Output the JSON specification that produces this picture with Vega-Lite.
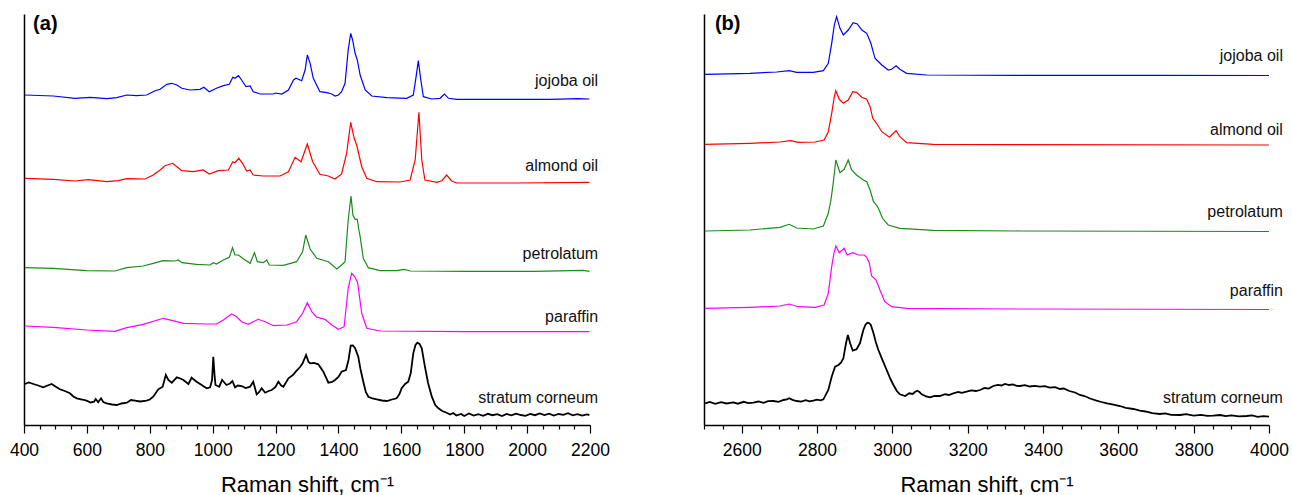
{
  "$schema": "https://vega.github.io/schema/vega-lite/v6.json",
  "padding": {"left": 9, "top": 13, "right": 0, "bottom": 0},
  "background": "white",
  "config": {
    "view": {"stroke": null},
    "font": "Liberation Sans",
    "axis": {"domainColor": "black", "tickColor": "black", "labelColor": "black", "titleColor": "black", "grid": false}
  },
  "spacing": 114,
  "bounds": "flush",
  "datasets": {
    "specA": [
      {"sample":"jojoba oil","shift":403,"intensity":330},{"sample":"jojoba oil","shift":493,"intensity":329},{"sample":"jojoba oil","shift":562,"intensity":326.7},{"sample":"jojoba oil","shift":610,"intensity":327.7},{"sample":"jojoba oil","shift":663,"intensity":326.3},{"sample":"jojoba oil","shift":695,"intensity":327.3},{"sample":"jojoba oil","shift":727,"intensity":330},{"sample":"jojoba oil","shift":758,"intensity":329.3},{"sample":"jojoba oil","shift":790,"intensity":330},{"sample":"jojoba oil","shift":817,"intensity":334.3},{"sample":"jojoba oil","shift":833,"intensity":335.7},{"sample":"jojoba oil","shift":854,"intensity":340.7},{"sample":"jojoba oil","shift":870,"intensity":341.7},{"sample":"jojoba oil","shift":886,"intensity":340},{"sample":"jojoba oil","shift":902,"intensity":336.7},{"sample":"jojoba oil","shift":928,"intensity":335},{"sample":"jojoba oil","shift":960,"intensity":335.7},{"sample":"jojoba oil","shift":972,"intensity":337.7},{"sample":"jojoba oil","shift":989,"intensity":333.3},{"sample":"jojoba oil","shift":1012,"intensity":336.7},{"sample":"jojoba oil","shift":1034,"intensity":339.3},{"sample":"jojoba oil","shift":1053,"intensity":340.7},{"sample":"jojoba oil","shift":1064,"intensity":347.7},{"sample":"jojoba oil","shift":1071,"intensity":346.7},{"sample":"jojoba oil","shift":1082,"intensity":349.3},{"sample":"jojoba oil","shift":1092,"intensity":345},{"sample":"jojoba oil","shift":1106,"intensity":338.3},{"sample":"jojoba oil","shift":1119,"intensity":339},{"sample":"jojoba oil","shift":1129,"intensity":333.3},{"sample":"jojoba oil","shift":1151,"intensity":331},{"sample":"jojoba oil","shift":1193,"intensity":331},{"sample":"jojoba oil","shift":1200,"intensity":332},{"sample":"jojoba oil","shift":1220,"intensity":331},{"sample":"jojoba oil","shift":1241,"intensity":335},{"sample":"jojoba oil","shift":1257,"intensity":345},{"sample":"jojoba oil","shift":1265,"intensity":346.7},{"sample":"jojoba oil","shift":1283,"intensity":344.3},{"sample":"jojoba oil","shift":1294,"intensity":355},{"sample":"jojoba oil","shift":1301,"intensity":370},{"sample":"jojoba oil","shift":1310,"intensity":361.7},{"sample":"jojoba oil","shift":1320,"intensity":346.7},{"sample":"jojoba oil","shift":1341,"intensity":333.3},{"sample":"jojoba oil","shift":1363,"intensity":332.3},{"sample":"jojoba oil","shift":1379,"intensity":331},{"sample":"jojoba oil","shift":1389,"intensity":329},{"sample":"jojoba oil","shift":1400,"intensity":330},{"sample":"jojoba oil","shift":1410,"intensity":333.3},{"sample":"jojoba oil","shift":1421,"intensity":341.7},{"sample":"jojoba oil","shift":1431,"intensity":375},{"sample":"jojoba oil","shift":1439,"intensity":391.7},{"sample":"jojoba oil","shift":1445,"intensity":385},{"sample":"jojoba oil","shift":1453,"intensity":371.7},{"sample":"jojoba oil","shift":1460,"intensity":365},{"sample":"jojoba oil","shift":1469,"intensity":350},{"sample":"jojoba oil","shift":1485,"intensity":335},{"sample":"jojoba oil","shift":1506,"intensity":329},{"sample":"jojoba oil","shift":1554,"intensity":327.3},{"sample":"jojoba oil","shift":1617,"intensity":326.7},{"sample":"jojoba oil","shift":1638,"intensity":330},{"sample":"jojoba oil","shift":1647,"intensity":348.3},{"sample":"jojoba oil","shift":1654,"intensity":364.3},{"sample":"jojoba oil","shift":1662,"intensity":345},{"sample":"jojoba oil","shift":1670,"intensity":328.3},{"sample":"jojoba oil","shift":1697,"intensity":326},{"sample":"jojoba oil","shift":1723,"intensity":326.7},{"sample":"jojoba oil","shift":1737,"intensity":331},{"sample":"jojoba oil","shift":1750,"intensity":326.7},{"sample":"jojoba oil","shift":1776,"intensity":325.7},{"sample":"jojoba oil","shift":1914,"intensity":325.7},{"sample":"jojoba oil","shift":2073,"intensity":325.7},{"sample":"jojoba oil","shift":2163,"intensity":326.3},{"sample":"jojoba oil","shift":2198,"intensity":326},
      {"sample":"almond oil","shift":403,"intensity":246.7},{"sample":"almond oil","shift":493,"intensity":245.7},{"sample":"almond oil","shift":562,"intensity":244},{"sample":"almond oil","shift":605,"intensity":245.3},{"sample":"almond oil","shift":663,"intensity":243.3},{"sample":"almond oil","shift":700,"intensity":244.3},{"sample":"almond oil","shift":727,"intensity":246.3},{"sample":"almond oil","shift":785,"intensity":246},{"sample":"almond oil","shift":811,"intensity":250},{"sample":"almond oil","shift":833,"intensity":255},{"sample":"almond oil","shift":848,"intensity":259.3},{"sample":"almond oil","shift":873,"intensity":261.7},{"sample":"almond oil","shift":886,"intensity":258.3},{"sample":"almond oil","shift":902,"intensity":254.3},{"sample":"almond oil","shift":938,"intensity":253.3},{"sample":"almond oil","shift":970,"intensity":255},{"sample":"almond oil","shift":989,"intensity":251},{"sample":"almond oil","shift":1018,"intensity":254.3},{"sample":"almond oil","shift":1050,"intensity":255},{"sample":"almond oil","shift":1064,"intensity":263.3},{"sample":"almond oil","shift":1071,"intensity":262.3},{"sample":"almond oil","shift":1083,"intensity":266.7},{"sample":"almond oil","shift":1095,"intensity":261.7},{"sample":"almond oil","shift":1108,"intensity":254},{"sample":"almond oil","shift":1119,"intensity":255},{"sample":"almond oil","shift":1129,"intensity":250},{"sample":"almond oil","shift":1161,"intensity":249},{"sample":"almond oil","shift":1214,"intensity":249},{"sample":"almond oil","shift":1241,"intensity":253.3},{"sample":"almond oil","shift":1262,"intensity":267.7},{"sample":"almond oil","shift":1281,"intensity":263.3},{"sample":"almond oil","shift":1301,"intensity":281},{"sample":"almond oil","shift":1318,"intensity":263.3},{"sample":"almond oil","shift":1341,"intensity":250.7},{"sample":"almond oil","shift":1368,"intensity":249},{"sample":"almond oil","shift":1389,"intensity":246},{"sample":"almond oil","shift":1410,"intensity":251},{"sample":"almond oil","shift":1426,"intensity":271.7},{"sample":"almond oil","shift":1439,"intensity":302.7},{"sample":"almond oil","shift":1450,"intensity":286.7},{"sample":"almond oil","shift":1458,"intensity":280},{"sample":"almond oil","shift":1474,"intensity":258.3},{"sample":"almond oil","shift":1490,"intensity":246.7},{"sample":"almond oil","shift":1522,"intensity":243.3},{"sample":"almond oil","shift":1596,"intensity":243},{"sample":"almond oil","shift":1628,"intensity":245},{"sample":"almond oil","shift":1644,"intensity":265},{"sample":"almond oil","shift":1656,"intensity":312.7},{"sample":"almond oil","shift":1665,"intensity":265},{"sample":"almond oil","shift":1675,"intensity":245},{"sample":"almond oil","shift":1713,"intensity":242.7},{"sample":"almond oil","shift":1729,"intensity":244.3},{"sample":"almond oil","shift":1744,"intensity":250},{"sample":"almond oil","shift":1760,"intensity":244},{"sample":"almond oil","shift":1776,"intensity":242},{"sample":"almond oil","shift":1967,"intensity":242},{"sample":"almond oil","shift":2198,"intensity":242.7},
      {"sample":"petrolatum","shift":403,"intensity":157.3},{"sample":"petrolatum","shift":493,"intensity":156.7},{"sample":"petrolatum","shift":599,"intensity":154.3},{"sample":"petrolatum","shift":689,"intensity":154},{"sample":"petrolatum","shift":727,"intensity":157.3},{"sample":"petrolatum","shift":779,"intensity":159},{"sample":"petrolatum","shift":811,"intensity":161.7},{"sample":"petrolatum","shift":843,"intensity":164.3},{"sample":"petrolatum","shift":880,"intensity":164},{"sample":"petrolatum","shift":891,"intensity":165},{"sample":"petrolatum","shift":902,"intensity":162.3},{"sample":"petrolatum","shift":949,"intensity":160.7},{"sample":"petrolatum","shift":992,"intensity":160},{"sample":"petrolatum","shift":1002,"intensity":162.3},{"sample":"petrolatum","shift":1012,"intensity":161},{"sample":"petrolatum","shift":1034,"intensity":165},{"sample":"petrolatum","shift":1053,"intensity":167.7},{"sample":"petrolatum","shift":1063,"intensity":177.3},{"sample":"petrolatum","shift":1071,"intensity":170},{"sample":"petrolatum","shift":1082,"intensity":170},{"sample":"petrolatum","shift":1095,"intensity":166.7},{"sample":"petrolatum","shift":1119,"intensity":161.7},{"sample":"petrolatum","shift":1133,"intensity":172.3},{"sample":"petrolatum","shift":1142,"intensity":163.3},{"sample":"petrolatum","shift":1161,"intensity":162.3},{"sample":"petrolatum","shift":1172,"intensity":165},{"sample":"petrolatum","shift":1180,"intensity":160},{"sample":"petrolatum","shift":1225,"intensity":159.7},{"sample":"petrolatum","shift":1267,"intensity":163.3},{"sample":"petrolatum","shift":1286,"intensity":173.3},{"sample":"petrolatum","shift":1296,"intensity":190},{"sample":"petrolatum","shift":1310,"intensity":176},{"sample":"petrolatum","shift":1331,"intensity":166.7},{"sample":"petrolatum","shift":1368,"intensity":163.3},{"sample":"petrolatum","shift":1395,"intensity":156},{"sample":"petrolatum","shift":1410,"intensity":160},{"sample":"petrolatum","shift":1421,"intensity":163.3},{"sample":"petrolatum","shift":1431,"intensity":205},{"sample":"petrolatum","shift":1440,"intensity":229},{"sample":"petrolatum","shift":1446,"intensity":210},{"sample":"petrolatum","shift":1453,"intensity":205.7},{"sample":"petrolatum","shift":1460,"intensity":205.7},{"sample":"petrolatum","shift":1465,"intensity":195},{"sample":"petrolatum","shift":1469,"intensity":188.3},{"sample":"petrolatum","shift":1479,"intensity":166.7},{"sample":"petrolatum","shift":1495,"intensity":157.3},{"sample":"petrolatum","shift":1532,"intensity":154.3},{"sample":"petrolatum","shift":1585,"intensity":154.3},{"sample":"petrolatum","shift":1609,"intensity":155.7},{"sample":"petrolatum","shift":1628,"intensity":154},{"sample":"petrolatum","shift":1808,"intensity":153.7},{"sample":"petrolatum","shift":2020,"intensity":153.7},{"sample":"petrolatum","shift":2179,"intensity":154.7},{"sample":"petrolatum","shift":2198,"intensity":153.7},
      {"sample":"paraffin","shift":403,"intensity":99},{"sample":"paraffin","shift":493,"intensity":97.7},{"sample":"paraffin","shift":599,"intensity":95},{"sample":"paraffin","shift":689,"intensity":93.7},{"sample":"paraffin","shift":727,"intensity":97.3},{"sample":"paraffin","shift":779,"intensity":100.7},{"sample":"paraffin","shift":843,"intensity":106.7},{"sample":"paraffin","shift":886,"intensity":103.3},{"sample":"paraffin","shift":907,"intensity":101.7},{"sample":"paraffin","shift":981,"intensity":101},{"sample":"paraffin","shift":1012,"intensity":101},{"sample":"paraffin","shift":1034,"intensity":105},{"sample":"paraffin","shift":1060,"intensity":111},{"sample":"paraffin","shift":1076,"intensity":108.3},{"sample":"paraffin","shift":1092,"intensity":103.3},{"sample":"paraffin","shift":1113,"intensity":100.7},{"sample":"paraffin","shift":1145,"intensity":105.7},{"sample":"paraffin","shift":1167,"intensity":103.3},{"sample":"paraffin","shift":1193,"intensity":99.3},{"sample":"paraffin","shift":1236,"intensity":100},{"sample":"paraffin","shift":1267,"intensity":103.3},{"sample":"paraffin","shift":1286,"intensity":111.7},{"sample":"paraffin","shift":1301,"intensity":122.3},{"sample":"paraffin","shift":1315,"intensity":113.3},{"sample":"paraffin","shift":1330,"intensity":108},{"sample":"paraffin","shift":1357,"intensity":105.7},{"sample":"paraffin","shift":1379,"intensity":100},{"sample":"paraffin","shift":1400,"intensity":95.7},{"sample":"paraffin","shift":1418,"intensity":98.3},{"sample":"paraffin","shift":1431,"intensity":136.7},{"sample":"paraffin","shift":1442,"intensity":151.7},{"sample":"paraffin","shift":1453,"intensity":147.7},{"sample":"paraffin","shift":1461,"intensity":142.3},{"sample":"paraffin","shift":1474,"intensity":111.7},{"sample":"paraffin","shift":1490,"intensity":96.7},{"sample":"paraffin","shift":1532,"intensity":94},{"sample":"paraffin","shift":1808,"intensity":93.3},{"sample":"paraffin","shift":2198,"intensity":93.3},
      {"sample":"stratum corneum","shift":403,"intensity":41},{"sample":"stratum corneum","shift":415,"intensity":42.5},{"sample":"stratum corneum","shift":430,"intensity":41},{"sample":"stratum corneum","shift":445,"intensity":39.5},{"sample":"stratum corneum","shift":461,"intensity":37.7},{"sample":"stratum corneum","shift":475,"intensity":39.5},{"sample":"stratum corneum","shift":488,"intensity":41},{"sample":"stratum corneum","shift":500,"intensity":38.5},{"sample":"stratum corneum","shift":514,"intensity":35.7},{"sample":"stratum corneum","shift":530,"intensity":34},{"sample":"stratum corneum","shift":546,"intensity":31.7},{"sample":"stratum corneum","shift":557,"intensity":28.5},{"sample":"stratum corneum","shift":568,"intensity":26.7},{"sample":"stratum corneum","shift":585,"intensity":25.5},{"sample":"stratum corneum","shift":599,"intensity":24.3},{"sample":"stratum corneum","shift":612,"intensity":22.5},{"sample":"stratum corneum","shift":623,"intensity":23.3},{"sample":"stratum corneum","shift":628,"intensity":26},{"sample":"stratum corneum","shift":636,"intensity":22.7},{"sample":"stratum corneum","shift":645,"intensity":26.7},{"sample":"stratum corneum","shift":652,"intensity":23},{"sample":"stratum corneum","shift":663,"intensity":21.7},{"sample":"stratum corneum","shift":680,"intensity":20.5},{"sample":"stratum corneum","shift":695,"intensity":20},{"sample":"stratum corneum","shift":710,"intensity":21.5},{"sample":"stratum corneum","shift":727,"intensity":22.3},{"sample":"stratum corneum","shift":740,"intensity":25},{"sample":"stratum corneum","shift":753,"intensity":24.3},{"sample":"stratum corneum","shift":770,"intensity":23.5},{"sample":"stratum corneum","shift":790,"intensity":24.3},{"sample":"stratum corneum","shift":800,"intensity":25.5},{"sample":"stratum corneum","shift":811,"intensity":28.3},{"sample":"stratum corneum","shift":827,"intensity":35.7},{"sample":"stratum corneum","shift":841,"intensity":38.3},{"sample":"stratum corneum","shift":851,"intensity":50},{"sample":"stratum corneum","shift":859,"intensity":45},{"sample":"stratum corneum","shift":870,"intensity":42.3},{"sample":"stratum corneum","shift":886,"intensity":47.7},{"sample":"stratum corneum","shift":897,"intensity":46.5},{"sample":"stratum corneum","shift":907,"intensity":45},{"sample":"stratum corneum","shift":923,"intensity":41},{"sample":"stratum corneum","shift":933,"intensity":47.3},{"sample":"stratum corneum","shift":949,"intensity":43.3},{"sample":"stratum corneum","shift":965,"intensity":40},{"sample":"stratum corneum","shift":981,"intensity":36.7},{"sample":"stratum corneum","shift":992,"intensity":37.7},{"sample":"stratum corneum","shift":998,"intensity":45},{"sample":"stratum corneum","shift":1002,"intensity":68.3},{"sample":"stratum corneum","shift":1006,"intensity":50},{"sample":"stratum corneum","shift":1009,"intensity":40},{"sample":"stratum corneum","shift":1021,"intensity":38.3},{"sample":"stratum corneum","shift":1030,"intensity":45},{"sample":"stratum corneum","shift":1044,"intensity":40},{"sample":"stratum corneum","shift":1055,"intensity":41.5},{"sample":"stratum corneum","shift":1063,"intensity":44},{"sample":"stratum corneum","shift":1071,"intensity":37.7},{"sample":"stratum corneum","shift":1080,"intensity":39.5},{"sample":"stratum corneum","shift":1092,"intensity":39},{"sample":"stratum corneum","shift":1105,"intensity":37},{"sample":"stratum corneum","shift":1119,"intensity":38.3},{"sample":"stratum corneum","shift":1129,"intensity":43.3},{"sample":"stratum corneum","shift":1140,"intensity":30.7},{"sample":"stratum corneum","shift":1148,"intensity":33},{"sample":"stratum corneum","shift":1156,"intensity":36.7},{"sample":"stratum corneum","shift":1167,"intensity":32.3},{"sample":"stratum corneum","shift":1178,"intensity":34},{"sample":"stratum corneum","shift":1188,"intensity":35},{"sample":"stratum corneum","shift":1200,"intensity":38},{"sample":"stratum corneum","shift":1209,"intensity":43.3},{"sample":"stratum corneum","shift":1218,"intensity":39.5},{"sample":"stratum corneum","shift":1225,"intensity":38.3},{"sample":"stratum corneum","shift":1241,"intensity":46.7},{"sample":"stratum corneum","shift":1255,"intensity":50},{"sample":"stratum corneum","shift":1267,"intensity":54.3},{"sample":"stratum corneum","shift":1278,"intensity":58},{"sample":"stratum corneum","shift":1286,"intensity":61.7},{"sample":"stratum corneum","shift":1297,"intensity":70},{"sample":"stratum corneum","shift":1305,"intensity":63},{"sample":"stratum corneum","shift":1310,"intensity":61.7},{"sample":"stratum corneum","shift":1322,"intensity":62},{"sample":"stratum corneum","shift":1336,"intensity":60.7},{"sample":"stratum corneum","shift":1352,"intensity":53.3},{"sample":"stratum corneum","shift":1368,"intensity":42.3},{"sample":"stratum corneum","shift":1380,"intensity":43},{"sample":"stratum corneum","shift":1389,"intensity":45},{"sample":"stratum corneum","shift":1400,"intensity":48},{"sample":"stratum corneum","shift":1410,"intensity":53.3},{"sample":"stratum corneum","shift":1424,"intensity":55},{"sample":"stratum corneum","shift":1432,"intensity":65},{"sample":"stratum corneum","shift":1439,"intensity":79.3},{"sample":"stratum corneum","shift":1446,"intensity":79.5},{"sample":"stratum corneum","shift":1453,"intensity":76.7},{"sample":"stratum corneum","shift":1463,"intensity":68.3},{"sample":"stratum corneum","shift":1470,"intensity":56},{"sample":"stratum corneum","shift":1479,"intensity":43.3},{"sample":"stratum corneum","shift":1487,"intensity":33},{"sample":"stratum corneum","shift":1495,"intensity":28.3},{"sample":"stratum corneum","shift":1508,"intensity":26.5},{"sample":"stratum corneum","shift":1522,"intensity":25.7},{"sample":"stratum corneum","shift":1538,"intensity":24.5},{"sample":"stratum corneum","shift":1554,"intensity":24},{"sample":"stratum corneum","shift":1570,"intensity":25.5},{"sample":"stratum corneum","shift":1585,"intensity":26.7},{"sample":"stratum corneum","shift":1594,"intensity":31},{"sample":"stratum corneum","shift":1601,"intensity":36.7},{"sample":"stratum corneum","shift":1612,"intensity":41},{"sample":"stratum corneum","shift":1622,"intensity":43.3},{"sample":"stratum corneum","shift":1630,"intensity":52},{"sample":"stratum corneum","shift":1638,"intensity":71.7},{"sample":"stratum corneum","shift":1645,"intensity":80},{"sample":"stratum corneum","shift":1651,"intensity":82.3},{"sample":"stratum corneum","shift":1658,"intensity":81},{"sample":"stratum corneum","shift":1665,"intensity":76.7},{"sample":"stratum corneum","shift":1675,"intensity":58.3},{"sample":"stratum corneum","shift":1685,"intensity":42},{"sample":"stratum corneum","shift":1697,"intensity":28.3},{"sample":"stratum corneum","shift":1708,"intensity":20},{"sample":"stratum corneum","shift":1718,"intensity":16.7},{"sample":"stratum corneum","shift":1730,"intensity":14},{"sample":"stratum corneum","shift":1744,"intensity":12.3},{"sample":"stratum corneum","shift":1755,"intensity":10.5},{"sample":"stratum corneum","shift":1765,"intensity":12},{"sample":"stratum corneum","shift":1775,"intensity":9.5},{"sample":"stratum corneum","shift":1790,"intensity":11},{"sample":"stratum corneum","shift":1800,"intensity":9},{"sample":"stratum corneum","shift":1815,"intensity":11.5},{"sample":"stratum corneum","shift":1830,"intensity":9.5},{"sample":"stratum corneum","shift":1845,"intensity":10.8},{"sample":"stratum corneum","shift":1860,"intensity":9.2},{"sample":"stratum corneum","shift":1875,"intensity":11.2},{"sample":"stratum corneum","shift":1890,"intensity":9.8},{"sample":"stratum corneum","shift":1905,"intensity":10.9},{"sample":"stratum corneum","shift":1920,"intensity":9},{"sample":"stratum corneum","shift":1935,"intensity":11},{"sample":"stratum corneum","shift":1950,"intensity":9.6},{"sample":"stratum corneum","shift":1965,"intensity":11.3},{"sample":"stratum corneum","shift":1980,"intensity":10},{"sample":"stratum corneum","shift":1995,"intensity":9.2},{"sample":"stratum corneum","shift":2010,"intensity":11},{"sample":"stratum corneum","shift":2025,"intensity":9.8},{"sample":"stratum corneum","shift":2040,"intensity":11.6},{"sample":"stratum corneum","shift":2055,"intensity":10},{"sample":"stratum corneum","shift":2070,"intensity":11.4},{"sample":"stratum corneum","shift":2085,"intensity":9.5},{"sample":"stratum corneum","shift":2100,"intensity":11},{"sample":"stratum corneum","shift":2115,"intensity":10.2},{"sample":"stratum corneum","shift":2130,"intensity":11.8},{"sample":"stratum corneum","shift":2145,"intensity":9.7},{"sample":"stratum corneum","shift":2160,"intensity":10.9},{"sample":"stratum corneum","shift":2175,"intensity":9.4},{"sample":"stratum corneum","shift":2190,"intensity":10.6},{"sample":"stratum corneum","shift":2198,"intensity":10}
    ],
    "specB": [
      {"sample":"jojoba oil","shift":2503,"intensity":350.7},{"sample":"jojoba oil","shift":2622,"intensity":351.7},{"sample":"jojoba oil","shift":2693,"intensity":353},{"sample":"jojoba oil","shift":2726,"intensity":354.3},{"sample":"jojoba oil","shift":2746,"intensity":352.7},{"sample":"jojoba oil","shift":2790,"intensity":352.7},{"sample":"jojoba oil","shift":2817,"intensity":354.3},{"sample":"jojoba oil","shift":2830,"intensity":361.7},{"sample":"jojoba oil","shift":2839,"intensity":381.7},{"sample":"jojoba oil","shift":2846,"intensity":400},{"sample":"jojoba oil","shift":2852,"intensity":408.3},{"sample":"jojoba oil","shift":2861,"intensity":396.7},{"sample":"jojoba oil","shift":2870,"intensity":390},{"sample":"jojoba oil","shift":2883,"intensity":395},{"sample":"jojoba oil","shift":2896,"intensity":402.3},{"sample":"jojoba oil","shift":2907,"intensity":401},{"sample":"jojoba oil","shift":2919,"intensity":395},{"sample":"jojoba oil","shift":2932,"intensity":391.7},{"sample":"jojoba oil","shift":2943,"intensity":381.7},{"sample":"jojoba oil","shift":2954,"intensity":366.7},{"sample":"jojoba oil","shift":2972,"intensity":360},{"sample":"jojoba oil","shift":2989,"intensity":355},{"sample":"jojoba oil","shift":2998,"intensity":355.7},{"sample":"jojoba oil","shift":3010,"intensity":359.3},{"sample":"jojoba oil","shift":3020,"intensity":355.7},{"sample":"jojoba oil","shift":3038,"intensity":351.7},{"sample":"jojoba oil","shift":3091,"intensity":350},{"sample":"jojoba oil","shift":3339,"intensity":349.7},{"sample":"jojoba oil","shift":3700,"intensity":349.7},{"sample":"jojoba oil","shift":4000,"intensity":349.5},
      {"sample":"almond oil","shift":2503,"intensity":280.7},{"sample":"almond oil","shift":2622,"intensity":281.7},{"sample":"almond oil","shift":2702,"intensity":283},{"sample":"almond oil","shift":2730,"intensity":284.3},{"sample":"almond oil","shift":2750,"intensity":282.7},{"sample":"almond oil","shift":2795,"intensity":283},{"sample":"almond oil","shift":2819,"intensity":285},{"sample":"almond oil","shift":2830,"intensity":293.3},{"sample":"almond oil","shift":2839,"intensity":311.7},{"sample":"almond oil","shift":2846,"intensity":328.3},{"sample":"almond oil","shift":2850,"intensity":334.3},{"sample":"almond oil","shift":2859,"intensity":325.7},{"sample":"almond oil","shift":2870,"intensity":321.7},{"sample":"almond oil","shift":2883,"intensity":325},{"sample":"almond oil","shift":2895,"intensity":333.3},{"sample":"almond oil","shift":2905,"intensity":332.7},{"sample":"almond oil","shift":2919,"intensity":327.7},{"sample":"almond oil","shift":2932,"intensity":325.7},{"sample":"almond oil","shift":2941,"intensity":318.3},{"sample":"almond oil","shift":2948,"intensity":306.7},{"sample":"almond oil","shift":2958,"intensity":301.7},{"sample":"almond oil","shift":2972,"intensity":293.3},{"sample":"almond oil","shift":2992,"intensity":287.7},{"sample":"almond oil","shift":3010,"intensity":294.3},{"sample":"almond oil","shift":3020,"intensity":288.3},{"sample":"almond oil","shift":3038,"intensity":282.3},{"sample":"almond oil","shift":3109,"intensity":280.7},{"sample":"almond oil","shift":3339,"intensity":280.3},{"sample":"almond oil","shift":4000,"intensity":280},
      {"sample":"petrolatum","shift":2503,"intensity":194},{"sample":"petrolatum","shift":2622,"intensity":195},{"sample":"petrolatum","shift":2702,"intensity":197.7},{"sample":"petrolatum","shift":2726,"intensity":200.7},{"sample":"petrolatum","shift":2746,"intensity":197},{"sample":"petrolatum","shift":2790,"intensity":196},{"sample":"petrolatum","shift":2817,"intensity":199},{"sample":"petrolatum","shift":2830,"intensity":211.7},{"sample":"petrolatum","shift":2837,"intensity":225},{"sample":"petrolatum","shift":2843,"intensity":241.7},{"sample":"petrolatum","shift":2850,"intensity":265},{"sample":"petrolatum","shift":2861,"intensity":252.3},{"sample":"petrolatum","shift":2872,"intensity":255.7},{"sample":"petrolatum","shift":2883,"intensity":265},{"sample":"petrolatum","shift":2892,"intensity":255},{"sample":"petrolatum","shift":2905,"intensity":250},{"sample":"petrolatum","shift":2923,"intensity":245},{"sample":"petrolatum","shift":2932,"intensity":243.3},{"sample":"petrolatum","shift":2941,"intensity":235},{"sample":"petrolatum","shift":2950,"intensity":223.3},{"sample":"petrolatum","shift":2958,"intensity":220},{"sample":"petrolatum","shift":2963,"intensity":216.7},{"sample":"petrolatum","shift":2974,"intensity":206.7},{"sample":"petrolatum","shift":2989,"intensity":200},{"sample":"petrolatum","shift":3020,"intensity":196.7},{"sample":"petrolatum","shift":3109,"intensity":194.7},{"sample":"petrolatum","shift":3339,"intensity":194},{"sample":"petrolatum","shift":4000,"intensity":193.5},
      {"sample":"paraffin","shift":2503,"intensity":116.7},{"sample":"paraffin","shift":2622,"intensity":117.7},{"sample":"paraffin","shift":2702,"intensity":119},{"sample":"paraffin","shift":2726,"intensity":121},{"sample":"paraffin","shift":2750,"intensity":118.3},{"sample":"paraffin","shift":2795,"intensity":117.7},{"sample":"paraffin","shift":2819,"intensity":120},{"sample":"paraffin","shift":2830,"intensity":131.7},{"sample":"paraffin","shift":2839,"intensity":158.3},{"sample":"paraffin","shift":2845,"intensity":171.7},{"sample":"paraffin","shift":2850,"intensity":179},{"sample":"paraffin","shift":2859,"intensity":172.3},{"sample":"paraffin","shift":2872,"intensity":176.7},{"sample":"paraffin","shift":2880,"intensity":170},{"sample":"paraffin","shift":2895,"intensity":172.3},{"sample":"paraffin","shift":2910,"intensity":170},{"sample":"paraffin","shift":2925,"intensity":170},{"sample":"paraffin","shift":2932,"intensity":167.7},{"sample":"paraffin","shift":2939,"intensity":161.7},{"sample":"paraffin","shift":2945,"intensity":149},{"sample":"paraffin","shift":2957,"intensity":145},{"sample":"paraffin","shift":2967,"intensity":135},{"sample":"paraffin","shift":2980,"intensity":123.3},{"sample":"paraffin","shift":2998,"intensity":118.3},{"sample":"paraffin","shift":3038,"intensity":116.7},{"sample":"paraffin","shift":3339,"intensity":116},{"sample":"paraffin","shift":4000,"intensity":115.5},
      {"sample":"stratum corneum","shift":2503,"intensity":21.7},{"sample":"stratum corneum","shift":2515,"intensity":23},{"sample":"stratum corneum","shift":2530,"intensity":21.2},{"sample":"stratum corneum","shift":2545,"intensity":22.8},{"sample":"stratum corneum","shift":2560,"intensity":21.5},{"sample":"stratum corneum","shift":2578,"intensity":22.7},{"sample":"stratum corneum","shift":2590,"intensity":21.3},{"sample":"stratum corneum","shift":2605,"intensity":23.2},{"sample":"stratum corneum","shift":2618,"intensity":21.8},{"sample":"stratum corneum","shift":2631,"intensity":22.3},{"sample":"stratum corneum","shift":2645,"intensity":23.5},{"sample":"stratum corneum","shift":2658,"intensity":22.2},{"sample":"stratum corneum","shift":2670,"intensity":23.8},{"sample":"stratum corneum","shift":2684,"intensity":24},{"sample":"stratum corneum","shift":2698,"intensity":23.2},{"sample":"stratum corneum","shift":2711,"intensity":25},{"sample":"stratum corneum","shift":2720,"intensity":25.5},{"sample":"stratum corneum","shift":2726,"intensity":26.7},{"sample":"stratum corneum","shift":2735,"intensity":25.2},{"sample":"stratum corneum","shift":2746,"intensity":24},{"sample":"stratum corneum","shift":2758,"intensity":23.3},{"sample":"stratum corneum","shift":2770,"intensity":24.8},{"sample":"stratum corneum","shift":2780,"intensity":23.6},{"sample":"stratum corneum","shift":2790,"intensity":24.3},{"sample":"stratum corneum","shift":2800,"intensity":25.3},{"sample":"stratum corneum","shift":2810,"intensity":24.6},{"sample":"stratum corneum","shift":2817,"intensity":25.7},{"sample":"stratum corneum","shift":2830,"intensity":35},{"sample":"stratum corneum","shift":2839,"intensity":48.3},{"sample":"stratum corneum","shift":2848,"intensity":58.3},{"sample":"stratum corneum","shift":2857,"intensity":60},{"sample":"stratum corneum","shift":2864,"intensity":62.5},{"sample":"stratum corneum","shift":2870,"intensity":66.7},{"sample":"stratum corneum","shift":2877,"intensity":81.7},{"sample":"stratum corneum","shift":2882,"intensity":90},{"sample":"stratum corneum","shift":2888,"intensity":81.7},{"sample":"stratum corneum","shift":2895,"intensity":74.3},{"sample":"stratum corneum","shift":2905,"intensity":75.7},{"sample":"stratum corneum","shift":2914,"intensity":81.7},{"sample":"stratum corneum","shift":2923,"intensity":95},{"sample":"stratum corneum","shift":2929,"intensity":100.5},{"sample":"stratum corneum","shift":2934,"intensity":102.3},{"sample":"stratum corneum","shift":2938,"intensity":102},{"sample":"stratum corneum","shift":2943,"intensity":100},{"sample":"stratum corneum","shift":2950,"intensity":91.7},{"sample":"stratum corneum","shift":2956,"intensity":83},{"sample":"stratum corneum","shift":2963,"intensity":75},{"sample":"stratum corneum","shift":2972,"intensity":66.7},{"sample":"stratum corneum","shift":2985,"intensity":55},{"sample":"stratum corneum","shift":2995,"intensity":46},{"sample":"stratum corneum","shift":3003,"intensity":40},{"sample":"stratum corneum","shift":3012,"intensity":34},{"sample":"stratum corneum","shift":3020,"intensity":30.7},{"sample":"stratum corneum","shift":3034,"intensity":29},{"sample":"stratum corneum","shift":3045,"intensity":31.7},{"sample":"stratum corneum","shift":3054,"intensity":31},{"sample":"stratum corneum","shift":3060,"intensity":33},{"sample":"stratum corneum","shift":3066,"intensity":34.3},{"sample":"stratum corneum","shift":3072,"intensity":33},{"sample":"stratum corneum","shift":3078,"intensity":30.7},{"sample":"stratum corneum","shift":3090,"intensity":28.5},{"sample":"stratum corneum","shift":3100,"intensity":27.7},{"sample":"stratum corneum","shift":3112,"intensity":29.2},{"sample":"stratum corneum","shift":3126,"intensity":29},{"sample":"stratum corneum","shift":3140,"intensity":30.8},{"sample":"stratum corneum","shift":3150,"intensity":30},{"sample":"stratum corneum","shift":3162,"intensity":31.7},{"sample":"stratum corneum","shift":3175,"intensity":33},{"sample":"stratum corneum","shift":3185,"intensity":32.2},{"sample":"stratum corneum","shift":3197,"intensity":33.3},{"sample":"stratum corneum","shift":3210,"intensity":34.6},{"sample":"stratum corneum","shift":3222,"intensity":34},{"sample":"stratum corneum","shift":3233,"intensity":35},{"sample":"stratum corneum","shift":3245,"intensity":37},{"sample":"stratum corneum","shift":3256,"intensity":36.4},{"sample":"stratum corneum","shift":3268,"intensity":39},{"sample":"stratum corneum","shift":3280,"intensity":40.2},{"sample":"stratum corneum","shift":3290,"intensity":39.5},{"sample":"stratum corneum","shift":3299,"intensity":41},{"sample":"stratum corneum","shift":3310,"intensity":40},{"sample":"stratum corneum","shift":3320,"intensity":40.6},{"sample":"stratum corneum","shift":3330,"intensity":39.2},{"sample":"stratum corneum","shift":3339,"intensity":39},{"sample":"stratum corneum","shift":3352,"intensity":39.8},{"sample":"stratum corneum","shift":3365,"intensity":38.5},{"sample":"stratum corneum","shift":3378,"intensity":39.2},{"sample":"stratum corneum","shift":3392,"intensity":38.3},{"sample":"stratum corneum","shift":3405,"intensity":38.8},{"sample":"stratum corneum","shift":3418,"intensity":37.4},{"sample":"stratum corneum","shift":3432,"intensity":37.8},{"sample":"stratum corneum","shift":3445,"intensity":36},{"sample":"stratum corneum","shift":3455,"intensity":36.5},{"sample":"stratum corneum","shift":3470,"intensity":34},{"sample":"stratum corneum","shift":3485,"intensity":32.5},{"sample":"stratum corneum","shift":3498,"intensity":30},{"sample":"stratum corneum","shift":3510,"intensity":29},{"sample":"stratum corneum","shift":3525,"intensity":26.5},{"sample":"stratum corneum","shift":3542,"intensity":24.3},{"sample":"stratum corneum","shift":3555,"intensity":23},{"sample":"stratum corneum","shift":3570,"intensity":21.6},{"sample":"stratum corneum","shift":3587,"intensity":20.3},{"sample":"stratum corneum","shift":3604,"intensity":19},{"sample":"stratum corneum","shift":3620,"intensity":17.2},{"sample":"stratum corneum","shift":3640,"intensity":16},{"sample":"stratum corneum","shift":3657,"intensity":14.3},{"sample":"stratum corneum","shift":3672,"intensity":13.5},{"sample":"stratum corneum","shift":3690,"intensity":11.8},{"sample":"stratum corneum","shift":3710,"intensity":11},{"sample":"stratum corneum","shift":3725,"intensity":11.6},{"sample":"stratum corneum","shift":3740,"intensity":10.2},{"sample":"stratum corneum","shift":3764,"intensity":10},{"sample":"stratum corneum","shift":3780,"intensity":10.8},{"sample":"stratum corneum","shift":3800,"intensity":9.4},{"sample":"stratum corneum","shift":3820,"intensity":10.2},{"sample":"stratum corneum","shift":3836,"intensity":9.2},{"sample":"stratum corneum","shift":3852,"intensity":9.3},{"sample":"stratum corneum","shift":3870,"intensity":10},{"sample":"stratum corneum","shift":3885,"intensity":8.8},{"sample":"stratum corneum","shift":3900,"intensity":9.6},{"sample":"stratum corneum","shift":3920,"intensity":8.6},{"sample":"stratum corneum","shift":3941,"intensity":9},{"sample":"stratum corneum","shift":3955,"intensity":9.6},{"sample":"stratum corneum","shift":3970,"intensity":8.2},{"sample":"stratum corneum","shift":3985,"intensity":8.9},{"sample":"stratum corneum","shift":4000,"intensity":8.3}
    ],
    "labelsA": [
      {"label":"jojoba oil","shift":2226,"intensity":339},
      {"label":"almond oil","shift":2226,"intensity":254},
      {"label":"petrolatum","shift":2226,"intensity":166},
      {"label":"paraffin","shift":2226,"intensity":103},
      {"label":"stratum corneum","shift":2226,"intensity":22}
    ],
    "labelsB": [
      {"label":"jojoba oil","shift":4037,"intensity":364},
      {"label":"almond oil","shift":4037,"intensity":290},
      {"label":"petrolatum","shift":4037,"intensity":208},
      {"label":"paraffin","shift":4037,"intensity":129},
      {"label":"stratum corneum","shift":4037,"intensity":22}
    ],
    "tagA": [{"label":"(a)","shift":429,"intensity":395}],
    "tagB": [{"label":"(b)","shift":2529,"intensity":395}]
  },
  "hconcat": [
    {
      "width": 566,
      "height": 411,
      "resolve": {"axis": {"x": "independent"}},
      "layer": [
        {
          "data": {"name": "specA"},
          "mark": {"type": "line", "clip": true},
          "encoding": {
            "x": {"field": "shift", "type": "quantitative",
              "scale": {"domain": [400, 2200], "nice": false, "zero": false},
              "axis": {
                "orient": "bottom",
                "values": [400,600,800,1000,1200,1400,1600,1800,2000,2200],
                "format": "d",
                "tickSize": 8, "tickWidth": 1.2, "domainWidth": 1.5,
                "labelFontSize": 17.5, "labelPadding": 8, "labelOverlap": false, "labelFlush": false,
                "title": "Raman shift, cm⁻¹", "titleFontSize": 22, "titleFontWeight": "normal", "titlePadding": 16
              }},
            "y": {"field": "intensity", "type": "quantitative",
              "scale": {"domain": [0, 411], "nice": false, "zero": false},
              "axis": {"title": null, "labels": false, "ticks": false, "domainWidth": 1.5}},
            "color": {"field": "sample", "type": "nominal",
              "scale": {"domain": ["jojoba oil","almond oil","petrolatum","paraffin","stratum corneum"], "range": ["#0000ff","#ff0000","#1a8c1a","#ff00ff","#000000"]},
              "legend": null},
            "strokeWidth": {"condition": {"test": "datum.sample === 'stratum corneum'", "value": 1.8}, "value": 1.2}
          }
        },
        {
          "data": {"name": "labelsA"},
          "mark": {"type": "text", "align": "right", "baseline": "alphabetic", "fontSize": 16, "color": "#111111"},
          "encoding": {
            "x": {"field": "shift", "type": "quantitative", "axis": null},
            "y": {"field": "intensity", "type": "quantitative"},
            "text": {"field": "label"}
          }
        },
        {
          "data": {"name": "tagA"},
          "mark": {"type": "text", "align": "left", "baseline": "alphabetic", "fontSize": 20, "fontWeight": "bold", "color": "#000000"},
          "encoding": {
            "x": {"field": "shift", "type": "quantitative",
              "axis": {
                "orient": "bottom",
                "values": [450,500,550,650,700,750,850,900,950,1050,1100,1150,1250,1300,1350,1450,1500,1550,1650,1700,1750,1850,1900,1950,2050,2100,2150],
                "tickSize": 4, "tickWidth": 1.2, "labels": false, "domain": false, "title": null
              }},
            "y": {"field": "intensity", "type": "quantitative"},
            "text": {"field": "label"}
          }
        }
      ]
    },
    {
      "width": 565,
      "height": 411,
      "resolve": {"axis": {"x": "independent"}},
      "layer": [
        {
          "data": {"name": "specB"},
          "mark": {"type": "line", "clip": true},
          "encoding": {
            "x": {"field": "shift", "type": "quantitative",
              "scale": {"domain": [2500, 4000], "nice": false, "zero": false},
              "axis": {
                "orient": "bottom",
                "values": [2600,2800,3000,3200,3400,3600,3800,4000],
                "format": "d",
                "tickSize": 8, "tickWidth": 1.2, "domainWidth": 1.5,
                "labelFontSize": 17.5, "labelPadding": 8, "labelOverlap": false, "labelFlush": false,
                "title": "Raman shift, cm⁻¹", "titleFontSize": 22, "titleFontWeight": "normal", "titlePadding": 16
              }},
            "y": {"field": "intensity", "type": "quantitative",
              "scale": {"domain": [0, 411], "nice": false, "zero": false},
              "axis": {"title": null, "labels": false, "ticks": false, "domainWidth": 1.5}},
            "color": {"field": "sample", "type": "nominal",
              "scale": {"domain": ["jojoba oil","almond oil","petrolatum","paraffin","stratum corneum"], "range": ["#0000ff","#ff0000","#1a8c1a","#ff00ff","#000000"]},
              "legend": null},
            "strokeWidth": {"condition": {"test": "datum.sample === 'stratum corneum'", "value": 1.8}, "value": 1.2}
          }
        },
        {
          "data": {"name": "labelsB"},
          "mark": {"type": "text", "align": "right", "baseline": "alphabetic", "fontSize": 16, "color": "#111111"},
          "encoding": {
            "x": {"field": "shift", "type": "quantitative", "axis": null},
            "y": {"field": "intensity", "type": "quantitative"},
            "text": {"field": "label"}
          }
        },
        {
          "data": {"name": "tagB"},
          "mark": {"type": "text", "align": "left", "baseline": "alphabetic", "fontSize": 20, "fontWeight": "bold", "color": "#000000"},
          "encoding": {
            "x": {"field": "shift", "type": "quantitative",
              "axis": {
                "orient": "bottom",
                "values": [2500,2550,2650,2700,2750,2850,2900,2950,3050,3100,3150,3250,3300,3350,3450,3500,3550,3650,3700,3750,3850,3900,3950],
                "tickSize": 4, "tickWidth": 1.2, "labels": false, "domain": false, "title": null
              }},
            "y": {"field": "intensity", "type": "quantitative"},
            "text": {"field": "label"}
          }
        }
      ]
    }
  ]
}
